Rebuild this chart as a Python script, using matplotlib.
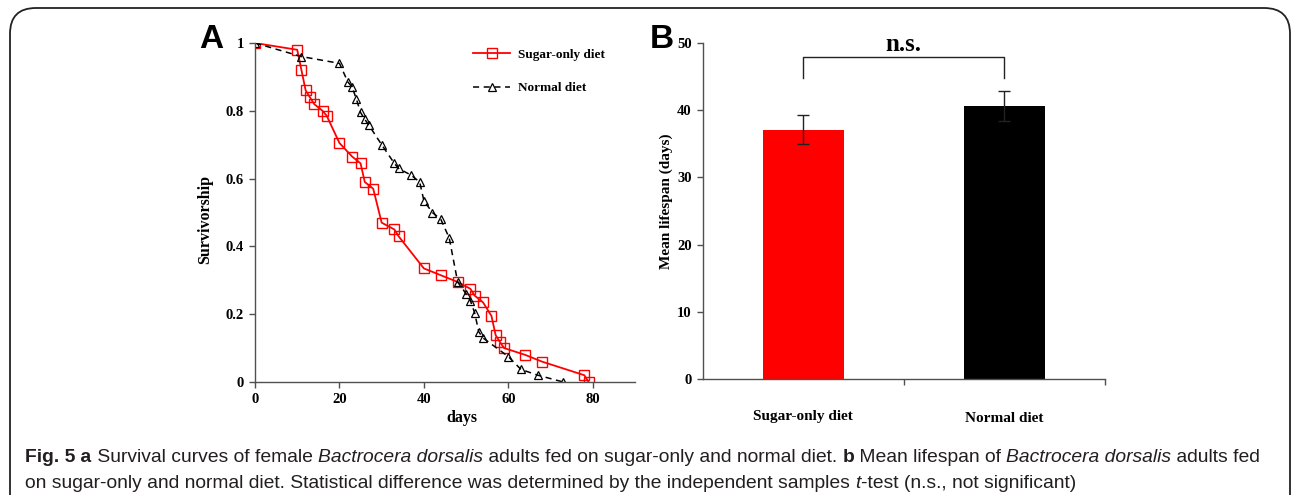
import matplotlib.pyplot as plt
from matplotlib.patches import FancyBboxPatch

# survival data (days, proportion alive)
sugar_days = [0, 10, 11, 12, 13, 14, 16, 17, 20, 23, 25, 26, 28, 30, 33, 34, 40,
              44, 48, 51, 52, 54, 56, 57, 58, 59, 64, 68, 78, 79]
sugar_surv = [1.0, 0.98, 0.92, 0.86, 0.84, 0.82, 0.80, 0.785, 0.705, 0.665, 0.645,
              0.59, 0.57, 0.47, 0.45, 0.43, 0.335, 0.315, 0.295, 0.275, 0.255, 0.235,
              0.195, 0.138, 0.118, 0.10, 0.08, 0.06, 0.02, 0.0]
normal_days = [0, 11, 20, 22, 23, 24, 25, 26, 27, 30, 33, 34, 37, 39, 40, 42, 44,
               46, 48, 50, 51, 52, 53, 54, 60, 63, 67, 73]
normal_surv = [1.0, 0.96, 0.94, 0.885, 0.87, 0.835, 0.795, 0.775, 0.757, 0.70,
               0.645, 0.63, 0.61, 0.59, 0.535, 0.50, 0.48, 0.425, 0.295, 0.26, 0.24,
               0.205, 0.148, 0.13, 0.075, 0.037, 0.02, 0.0]

# mean lifespan
diets = ['Sugar-only diet', 'Normal diet']
mean_life = [37.1, 40.6]
life_err = [2.2, 2.2]
bar_colors = ['#ff0000', '#000000']

serif = 'Liberation Serif'
spine_col = '#505050'

fig = plt.figure(figsize=(12.92, 4.95), dpi=100)

# rounded frame around the figure
frame = FancyBboxPatch((10 / 1292, -0.05), 1280 / 1292, 1 - 8 / 495 + 0.05,
                       boxstyle='round,pad=0,rounding_size=0.02',
                       transform=fig.transFigure, facecolor='none',
                       edgecolor='#222222', linewidth=1.3, mutation_aspect=2.6)
fig.patches.append(frame)

# ---- panel A
ax1 = fig.add_axes([255 / 1292, 1 - 382 / 495, 380 / 1292, 339 / 495])
ax1.plot(sugar_days, sugar_surv, color='#ff0000', lw=1.3, marker='s', ms=6.5,
         mfc='none', mec='#ff0000', mew=1.0, label='Sugar-only diet')
ax1.plot(normal_days, normal_surv, color='black', lw=1.1, ls=(0, (4, 3)), marker='^',
         ms=6, mfc='none', mec='black', mew=0.9, label='Normal diet')
ax1.set_xlim(0, 90)
ax1.set_ylim(0, 1)
ax1.set_xticks([0, 20, 40, 60, 80])
ax1.set_yticks([0, 0.2, 0.4, 0.6, 0.8, 1.0])
ax1.set_yticklabels(['0', '0.2', '0.4', '0.6', '0.8', '1'])
ax1.set_xlabel('days', family=serif, fontweight='bold', fontsize=11.5)
ax1.xaxis.set_label_coords(0.545, -0.083)
ax1.set_ylabel('Survivorship', family=serif, fontweight='bold', fontsize=11.5)
ax1.yaxis.set_label_coords(-0.111, 0.478)
leg = ax1.legend(loc='upper left', bbox_to_anchor=(0.574, 0.983), frameon=False,
                 prop={'family': serif, 'weight': 'bold', 'size': 9.5},
                 handlelength=2.8, handletextpad=0.6, labelspacing=1.6,
                 borderpad=0, borderaxespad=0)

# ---- panel B
ax2 = fig.add_axes([702.7 / 1292, 1 - 379.3 / 495, 402.3 / 1292, 336.6 / 495])
xpos = list(range(len(diets)))
ax2.bar(xpos, mean_life, width=0.4, color=bar_colors, yerr=life_err,
        error_kw={'ecolor': '#222222', 'elinewidth': 1.0, 'capsize': 4, 'capthick': 1.0})
ax2.set_xlim(-0.5, 1.5)
ax2.set_ylim(0, 50)
ax2.set_yticks([0, 10, 20, 30, 40, 50])
ax2.set_xticks([0.5, 1.5])
ax2.set_xticklabels([])
ax2.set_ylabel('Mean lifespan (days)', family=serif, fontweight='bold', fontsize=11)
ax2.yaxis.set_label_coords(-0.074, 0.528)
label_y = [-0.11, -0.117]
for i, name in enumerate(diets):
    ax2.text(xpos[i], label_y[i], name, transform=ax2.get_xaxis_transform(),
             ha='center', va='center', family=serif, fontweight='bold', fontsize=11)

# significance bracket
ax2.plot([0, 0, 1, 1], [44.7, 47.9, 47.9, 44.7], color='#222222', lw=1.0)
ax2.text(0.5, 48.0, 'n.s.', ha='center', va='bottom', family=serif,
         fontweight='bold', fontsize=18)

for ax in (ax1, ax2):
    for s in ('top', 'right'):
        ax.spines[s].set_visible(False)
    for s in ('left', 'bottom'):
        ax.spines[s].set_color(spine_col)
        ax.spines[s].set_linewidth(1.0)
    ax.tick_params(direction='out', length=4, width=1.0, color=spine_col, pad=4)
    for lab in ax.get_xticklabels() + ax.get_yticklabels():
        lab.set_family(serif)
        lab.set_fontweight('bold')
        lab.set_fontsize(10.5)

# panel letters
fig.text(199 / 1292, 1 - 40 / 495, 'A', family='Liberation Sans', fontweight='bold',
         fontsize=24, ha='left', va='center')
fig.text(650 / 1292, 1 - 40 / 495, 'B', family='Liberation Sans', fontweight='bold',
         fontsize=24, ha='left', va='center')

# caption built piece by piece
cap_font = ['Liberation Sans']
cap_size = 13.9
lines = [
    [('Fig. 5', 'bold', 'normal'), (' a', 'bold', 'normal'),
     (' Survival curves of female ', 'normal', 'normal'),
     ('Bactrocera dorsalis', 'normal', 'italic'),
     (' adults fed on sugar-only and normal diet. ', 'normal', 'normal'),
     ('b', 'bold', 'normal'), (' Mean lifespan of ', 'normal', 'normal'),
     ('Bactrocera dorsalis', 'normal', 'italic'), (' adults fed', 'normal', 'normal')],
    [('on sugar-only and normal diet. Statistical difference was determined by the '
      'independent samples ', 'normal', 'normal'),
     ('t', 'normal', 'italic'), ('-test (n.s., not significant)', 'normal', 'normal')],
]
line_y = [457, 484]
renderer = fig.canvas.get_renderer()
for pieces, yy in zip(lines, line_y):
    x = 25
    for txt, wt, st in pieces:
        t = fig.text(x / 1292, 1 - yy / 495, txt, family=cap_font, fontweight=wt,
                     fontstyle=st, fontsize=cap_size, ha='left', va='center',
                     color='#231f20')
        bb = t.get_window_extent(renderer)
        x += bb.width

fig.savefig('out.png', dpi=100)
